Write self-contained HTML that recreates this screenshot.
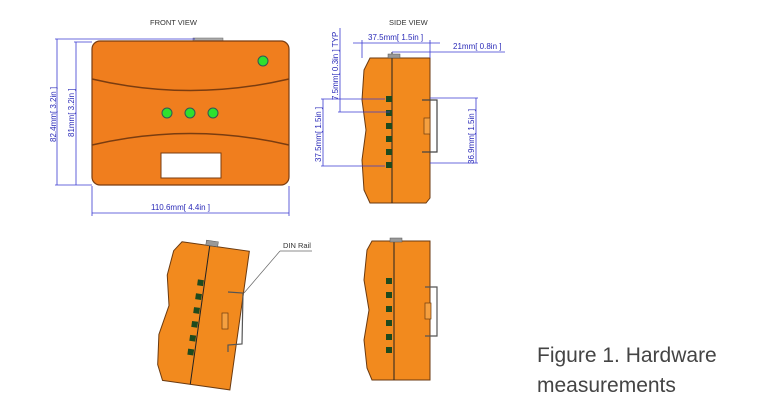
<!DOCTYPE html>
<html><head><meta charset="utf-8"><style>
html,body{margin:0;padding:0;background:#fff;width:777px;height:419px;overflow:hidden}
svg{display:block}
.dim{stroke:#3a3ad0;stroke-width:0.8;fill:none}
.dt{font-family:"Liberation Sans",sans-serif;font-size:8px;fill:#2a2ab8}
.lb{font-family:"Liberation Sans",sans-serif;font-size:7.5px;fill:#333}
.ob{fill:#f28a1e;stroke:#6b3a10;stroke-width:1}
.led{fill:#1e4a1e}
</style></head><body>
<svg width="777" height="419" viewBox="0 0 777 419" xmlns="http://www.w3.org/2000/svg">
<!-- FRONT VIEW -->
<text x="150" y="25" class="lb">FRONT VIEW</text>
<rect x="193" y="38" width="30" height="4" fill="#aaa" stroke="#666" stroke-width="0.5"/>
<rect x="92" y="41" width="197" height="144" rx="8" fill="#f07e1e" stroke="#7a3c10" stroke-width="1.2"/>
<path d="M92 79 Q190 102 289 79" fill="none" stroke="#7a3c10" stroke-width="1.5"/>
<path d="M92 145 Q190 122 289 145" fill="none" stroke="#7a3c10" stroke-width="1.5"/>
<circle cx="263" cy="61" r="5" fill="#2ee02e" stroke="#355" stroke-width="1"/>
<circle cx="167" cy="113" r="5" fill="#2ee02e" stroke="#355" stroke-width="1"/>
<circle cx="190" cy="113" r="5" fill="#2ee02e" stroke="#355" stroke-width="1"/>
<circle cx="213" cy="113" r="5" fill="#2ee02e" stroke="#355" stroke-width="1"/>
<rect x="161" y="153" width="60" height="25" fill="#fff" stroke="#7a3c10" stroke-width="1"/>
<!-- dims -->
<line class="dim" x1="57" y1="39" x2="57" y2="185"/><line class="dim" x1="55" y1="39" x2="195" y2="39"/>
<line class="dim" x1="55" y1="185" x2="92" y2="185"/>
<line class="dim" x1="76" y1="42" x2="76" y2="185"/><line class="dim" x1="74" y1="42" x2="92" y2="42"/>
<text class="dt" transform="translate(56,142) rotate(-90)">82.4mm[ 3.2in ]</text>
<text class="dt" transform="translate(74,137) rotate(-90)">81mm[ 3.2in ]</text>
<line class="dim" x1="92" y1="186" x2="92" y2="216"/><line class="dim" x1="289" y1="186" x2="289" y2="216"/>
<line class="dim" x1="92" y1="213" x2="289" y2="213"/>
<text class="dt" x="151" y="210">110.6mm[ 4.4in ]</text>
<!-- SIDE VIEW -->
<text x="389" y="25" class="lb">SIDE VIEW</text>
<path class="ob" d="M370 58 L430 58 L430 198 L426 203 L370 203 L364 190 L362 160 L366 130 L362 100 L364 70 Z"/>
<line x1="392" y1="52" x2="392" y2="203" stroke="#222" stroke-width="1"/>
<rect x="388" y="54" width="12" height="4" fill="#999" stroke="#555" stroke-width="0.5"/>
<g class="led"><rect x="386" y="96" width="6" height="6"/><rect x="386" y="110" width="6" height="6"/><rect x="386" y="123" width="6" height="6"/><rect x="386" y="136" width="6" height="6"/><rect x="386" y="149" width="6" height="6"/><rect x="386" y="162" width="6" height="6"/></g>
<path d="M422 100 L437 100 L437 152 L422 152" fill="none" stroke="#444" stroke-width="1.2"/>
<rect x="424" y="118" width="6" height="16" fill="#f5a040" stroke="#6b3a10" stroke-width="0.7"/>
<!-- side dims -->
<line class="dim" x1="353" y1="43" x2="440" y2="43"/><line class="dim" x1="362" y1="40" x2="362" y2="58"/><line class="dim" x1="430" y1="40" x2="430" y2="58"/>
<text class="dt" x="368" y="40">37.5mm[ 1.5in ]</text>
<line class="dim" x1="392" y1="52" x2="505" y2="52"/>
<text class="dt" x="453" y="49">21mm[ 0.8in ]</text>
<line class="dim" x1="340" y1="28" x2="340" y2="112"/><line class="dim" x1="338" y1="112" x2="390" y2="112"/>
<text class="dt" transform="translate(338,100) rotate(-90)">7.5mm[ 0.3in ] TYP</text>
<line class="dim" x1="323" y1="99" x2="323" y2="166"/><line class="dim" x1="321" y1="99" x2="385" y2="99"/><line class="dim" x1="321" y1="166" x2="385" y2="166"/>
<text class="dt" transform="translate(321,162) rotate(-90)">37.5mm[ 1.5in ]</text>
<line class="dim" x1="476" y1="98" x2="476" y2="163"/><line class="dim" x1="430" y1="98" x2="478" y2="98"/><line class="dim" x1="430" y1="163" x2="478" y2="163"/>
<text class="dt" transform="translate(474,164) rotate(-90)">36.9mm[ 1.5in ]</text>
<!-- bottom left tilted -->
<g transform="rotate(8 200 315)">
<path class="ob" d="M172 245 L240 245 L240 385 L172 385 L165 370 L162 340 L168 310 L162 280 L165 255 Z"/>
<line x1="200" y1="242" x2="200" y2="385" stroke="#222" stroke-width="1"/>
<rect x="196" y="240" width="12" height="5" fill="#999" stroke="#555" stroke-width="0.5"/>
<g class="led"><rect x="193" y="280" width="6" height="6"/><rect x="193" y="294" width="6" height="6"/><rect x="193" y="308" width="6" height="6"/><rect x="193" y="322" width="6" height="6"/><rect x="193" y="336" width="6" height="6"/><rect x="193" y="350" width="6" height="6"/></g>
</g>
<path d="M228 292 L243 293 L242 344 L228 345 L228 352" fill="none" stroke="#555" stroke-width="1.2"/>
<rect x="222" y="313" width="6" height="16" fill="#f5a040" stroke="#6b3a10" stroke-width="0.7"/>
<line x1="244" y1="293" x2="280" y2="251" stroke="#666" stroke-width="0.7"/>
<line x1="280" y1="251" x2="312" y2="251" stroke="#666" stroke-width="0.7"/>
<text x="283" y="248" class="lb">DIN Rail</text>
<!-- bottom right -->
<path class="ob" d="M372 241 L430 241 L430 380 L372 380 L367 368 L364 340 L369 310 L364 280 L367 250 Z"/>
<line x1="394" y1="238" x2="394" y2="380" stroke="#222" stroke-width="1"/>
<rect x="390" y="238" width="12" height="4" fill="#999" stroke="#555" stroke-width="0.5"/>
<g class="led"><rect x="386" y="278" width="6" height="6"/><rect x="386" y="292" width="6" height="6"/><rect x="386" y="306" width="6" height="6"/><rect x="386" y="320" width="6" height="6"/><rect x="386" y="334" width="6" height="6"/><rect x="386" y="347" width="6" height="6"/></g>
<path d="M425 287 L437 287 L437 336 L425 336" fill="none" stroke="#555" stroke-width="1.2"/>
<rect x="425" y="303" width="6" height="16" fill="#f5a040" stroke="#6b3a10" stroke-width="0.7"/>
<!-- caption -->
<text x="537" y="362" font-family="Liberation Sans, sans-serif" font-size="21" fill="#444">Figure 1. Hardware</text>
<text x="537" y="392" font-family="Liberation Sans, sans-serif" font-size="21" fill="#444">measurements</text>
</svg>
</body></html>
